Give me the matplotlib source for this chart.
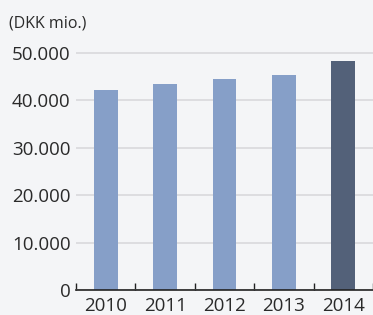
import matplotlib
matplotlib.use("Agg")
import matplotlib.pyplot as plt
from matplotlib.ticker import FixedLocator

years = ["2010", "2011", "2012", "2013", "2014"]
values = [42200, 43450, 44500, 45350, 48300]
colors = ["#869fc8", "#869fc8", "#869fc8", "#869fc8", "#536179"]
yticks = [0, 10000, 20000, 30000, 40000, 50000]
ylabels = ["0", "10.000", "20.000", "30.000", "40.000", "50.000"]

plt.rcParams['font.family'] = ['Open Sans', 'DejaVu Sans']
bg = "#f4f5f7"
fig = plt.figure(figsize=(3.73, 3.15), dpi=100, facecolor=bg)
ax = fig.add_axes([76/373, 1-290/315, (373-76)/373, (290-53)/315 * 55000/50000])
ax.set_facecolor(bg)
x = list(range(len(years)))
ax.bar(x, values, width=0.4, color=colors, zorder=3)
ax.set_xlim(-0.5, len(years) - 0.5)
ax.set_ylim(0, 55000)
ax.set_yticks(yticks)
ax.set_yticklabels(ylabels)
ax.grid(axis='y', color="#d9d9dc", linewidth=1.2, zorder=0)
for s in ["top", "right", "left"]:
    ax.spines[s].set_visible(False)
ax.spines["bottom"].set_color("#222222")
ax.spines["bottom"].set_linewidth(1.2)
ax.spines["bottom"].set_zorder(4)
ax.set_xticks(x)
ax.set_xticklabels(years)
ax.xaxis.set_minor_locator(FixedLocator([i - 0.5 for i in range(len(years) + 1)]))
ax.tick_params(axis='x', which='major', length=0, labelsize=13.5, colors="#2a2a2a", pad=5)
ax.tick_params(axis='x', which='minor', direction='in', length=5, width=1, color="#222222")
ax.tick_params(axis='y', length=0, labelsize=13.5, colors="#2a2a2a", pad=4)
fig.text(9/373, 1-23/315, "(DKK mio.)", fontsize=11.5, color="#2a2a2a", va='center', ha='left')
fig.savefig("out.png", dpi=100, facecolor=bg)
